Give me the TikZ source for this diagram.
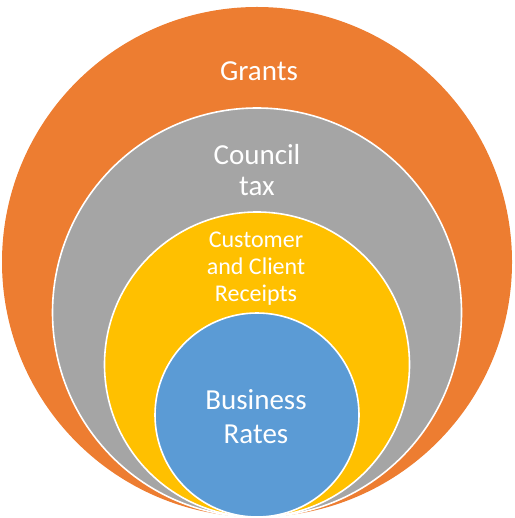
\documentclass[tikz,border=0pt]{standalone}
\usepackage{fontspec}
\setmainfont{Carlito}
\usepackage{tikz}
\definecolor{grantorange}{HTML}{ED7D31}
\definecolor{taxgray}{HTML}{A5A5A5}
\definecolor{receiptyellow}{HTML}{FFC000}
\definecolor{ratesblue}{HTML}{5B9BD5}
\tikzset{ring/.style={draw=white, line width=1.6pt},
         ringlabel/.style={text=white, align=center, font=\fontsize{29}{34}\selectfont}}

\begin{document}
\begin{tikzpicture}[x=1pt, y=-1pt]
     \useasboundingbox (0,0) rectangle (514,518); % same size as the original picture
     \fill [grantorange] (257,262) circle [radius=255]; % outer circle has no white rim
     \draw [ring, fill=taxgray] (257,312.5) circle [radius=204.5]; % all circles touch at the bottom
     \draw [ring, fill=receiptyellow] (257,364.5) circle [radius=152.5];
     \draw [ring, fill=ratesblue] (257,415) circle [radius=102];
     \node [ringlabel] (grants) at (259,71) {Grants};
     \node [ringlabel, font=\fontsize{29}{31}\selectfont] (counciltax) at (257,170) {Council\\tax};
     \node [ringlabel, font=\fontsize{24}{27}\selectfont] (receipts) at (256,269) {Customer\\and Client\\Receipts};
     \node [ringlabel] (rates) at (256,417) {Business\\Rates};
  \end{tikzpicture}
\end{document}
